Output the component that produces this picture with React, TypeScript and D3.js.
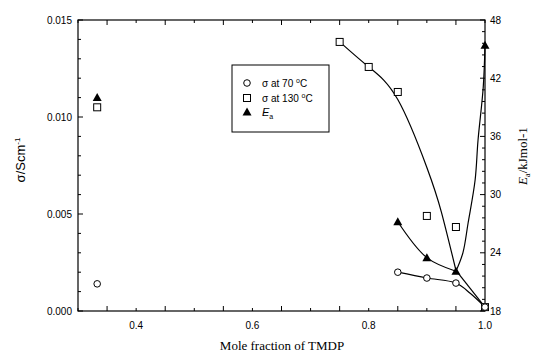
import React from 'react';
import * as d3 from 'd3';

// measured points (mole fraction of TMDP)
const FRAC_70 = [0.333, 0.85, 0.9, 0.95, 1.0];
const SIGMA_70 = [0.0014, 0.002, 0.0017, 0.00144, 0.0002];
const FRAC_130 = [0.333, 0.75, 0.8, 0.85, 0.9, 0.95, 1.0];
const SIGMA_130 = [0.0105, 0.01387, 0.01258, 0.01129, 0.0049, 0.00433, 0.0002];
const FRAC_EA = [0.333, 0.85, 0.9, 0.95, 1.0];
const EA = [40.0, 27.2, 23.5, 22.1, 45.4];

// guide curves
const FIT70_X = [0.85, 0.9, 0.95, 0.975, 1.0];
const FIT70_Y = [0.002, 0.0017, 0.00144, 0.0009, 0.0002];
const FIT130_X = [0.75, 0.8, 0.85, 0.9, 0.925, 0.95];
const FIT130_Y = [0.01387, 0.01258, 0.0109, 0.0074, 0.0051, 0.0021];
const FIT130_TAIL_X = [0.95, 1.0];
const FIT130_TAIL_Y = [0.0021, 0.0002];
const FIT_EA_A_X = [0.85, 0.9, 0.95];
const FIT_EA_A_Y = [27.2, 23.5, 22.1];
const FIT_EA_B_X = [0.95, 0.962, 0.971, 0.983, 0.988, 0.997, 1.0];
const FIT_EA_B_Y = [22.1, 24.0, 27.1, 31.5, 35.6, 41.1, 45.4];

const X_LABELS = [0.4, 0.6, 0.8, 1.0];
const SIGMA_TICKS = [0.0, 0.005, 0.01, 0.015];
const EA_TICKS = [18, 24, 30, 36, 42, 48];

const W = 537, H = 355;
const L = 78, R = 485, T = 20, B = 311;

export default function App() {
  const x = d3.scaleLinear().domain([0.3, 1.0]).range([L, R]);
  const y = d3.scaleLinear().domain([0, 0.015]).range([B, T]);
  const y2 = d3.scaleLinear().domain([18, 48]).range([B, T]);

  const line = (
    xs: number[], ys: number[], sc: d3.ScaleLinear<number, number>,
    curve: d3.CurveFactory = d3.curveCatmullRom.alpha(0.5),
  ) => d3.line<number>().x((_, i) => x(xs[i])).y((v) => sc(v)).curve(curve)(ys) || '';

  const xMinor = d3.range(0.3, 1.0001, 0.05);
  const sMinor = d3.range(0, 0.01501, 0.001);
  const eMinor = d3.range(18, 48.01, 1.2);

  const sans = 'Liberation Sans, Arial, sans-serif';
  const serif = 'Liberation Serif, Times New Roman, serif';

  const circle = (cx: number, cy: number, k: string) => (
    <circle key={k} cx={cx} cy={cy} r={3.3} fill="#fff" stroke="#000" strokeWidth={1} />
  );
  const square = (cx: number, cy: number, k: string) => (
    <rect key={k} x={cx - 3.5} y={cy - 3.5} width={7} height={7} fill="#fff" stroke="#000" strokeWidth={1} />
  );
  const tri = (cx: number, cy: number, k: string) => (
    <path key={k} d={`M${cx},${cy - 4.5}L${cx + 4.5},${cy + 3.5}L${cx - 4.5},${cy + 3.5}Z`} fill="#000" />
  );

  return (
    <svg width={W} height={H} style={{ position: 'absolute', left: 0, top: 0, background: '#fff' }}>
      <rect x={0} y={0} width={W} height={H} fill="#fff" />
      {/* frame */}
      <rect x={L} y={T} width={R - L} height={B - T} fill="none" stroke="#000" strokeWidth={1.2} />

      {/* x ticks bottom & top */}
      {xMinor.map((v, i) => {
        const len = i % 2 === 0 ? 3 : 5;
        return (
          <g key={'xt' + i}>
            <line x1={x(v)} x2={x(v)} y1={B} y2={B - len} stroke="#000" />
            <line x1={x(v)} x2={x(v)} y1={T} y2={T + len} stroke="#000" />
          </g>
        );
      })}
      {X_LABELS.map((v) => (
        <text key={'xl' + v} x={x(v)} y={329} textAnchor="middle" fontFamily={sans} fontSize={10}>
          {v.toFixed(1)}
        </text>
      ))}

      {/* left sigma axis */}
      {sMinor.map((v, i) => (
        <line key={'st' + i} x1={L} x2={L + (i % 5 === 0 ? 5 : 3)} y1={y(v)} y2={y(v)} stroke="#000" />
      ))}
      {SIGMA_TICKS.map((v) => (
        <text key={'sl' + v} x={72} y={y(v) + 3.5} textAnchor="end" fontFamily={sans} fontSize={10}>
          {v.toFixed(3)}
        </text>
      ))}
      <text transform={`translate(25,160) rotate(-90)`} textAnchor="middle" fontFamily={sans} fontSize={13}>
        σ/Scm<tspan dy={-5} fontSize={8}>-1</tspan>
      </text>

      {/* right Ea axis */}
      {eMinor.map((v, i) => (
        <line key={'et' + i} x1={R} x2={R - (i % 5 === 0 ? 5 : 3)} y1={y2(v)} y2={y2(v)} stroke="#000" />
      ))}
      {EA_TICKS.map((v) => (
        <text key={'el' + v} x={490} y={y2(v) + 3.5} textAnchor="start" fontFamily={sans} fontSize={10}>
          {v}
        </text>
      ))}
      <text transform={`translate(527,156) rotate(-90)`} textAnchor="middle" fontFamily={serif} fontSize={13}>
        <tspan fontStyle="italic">E</tspan>
        <tspan dy={3} fontSize={8}>a</tspan>
        <tspan dy={-3}>/kJmol-1</tspan>
      </text>

      <text x={282} y={350} textAnchor="middle" fontFamily={serif} fontSize={13}>
        Mole fraction of TMDP
      </text>

      {/* curves */}
      <g fill="none" stroke="#000" strokeWidth={1.2}>
        <path d={line(FIT70_X, FIT70_Y, y)} />
        <path d={line(FIT130_X, FIT130_Y, y, d3.curveNatural)} />
        <path d={line(FIT130_TAIL_X, FIT130_TAIL_Y, y, d3.curveLinear)} />
        <path d={line(FIT_EA_A_X, FIT_EA_A_Y, y2)} />
        <path d={line(FIT_EA_B_X, FIT_EA_B_Y, y2)} />
      </g>

      {/* markers */}
      {FRAC_130.map((f, i) => square(x(f), y(SIGMA_130[i]), 'sq' + i))}
      {FRAC_70.map((f, i) => circle(x(f), y(SIGMA_70[i]), 'c' + i))}
      {FRAC_EA.map((f, i) => tri(x(f), y2(EA[i]), 't' + i))}

      {/* legend */}
      <rect x={232} y={65} width={97} height={67} fill="#fff" stroke="#000" strokeWidth={1} />
      {circle(247, 83, 'lc')}
      {square(247, 98, 'ls')}
      {tri(247, 112, 'lt')}
      <text x={262} y={87} fontFamily={sans} fontSize={10}>σ at 70 <tspan dy={-4} fontSize={7}>o</tspan><tspan dy={4}>C</tspan></text>
      <text x={262} y={102} fontFamily={sans} fontSize={10}>σ at 130 <tspan dy={-4} fontSize={7}>o</tspan><tspan dy={4}>C</tspan></text>
      <text x={262} y={116} fontFamily={sans} fontSize={11} fontStyle="italic">E<tspan dy={3} fontSize={7} fontStyle="normal">a</tspan></text>
    </svg>
  );
}
